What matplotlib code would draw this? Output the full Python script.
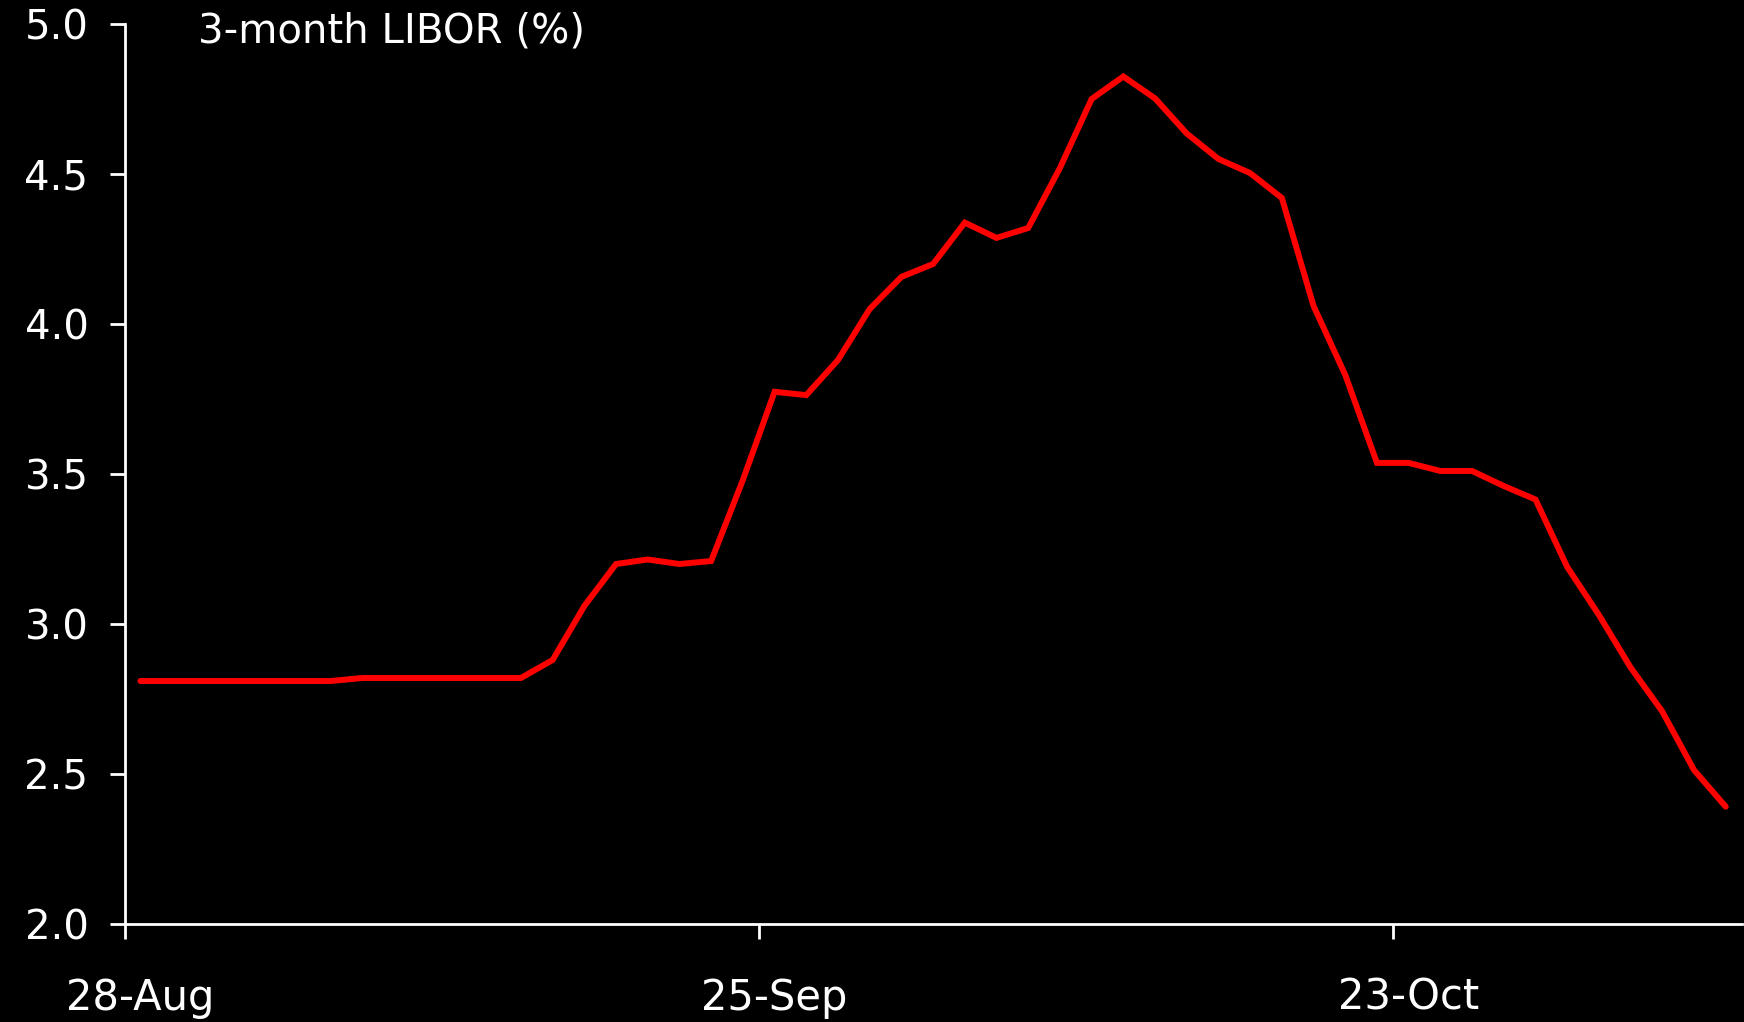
import matplotlib
matplotlib.use("Agg")
import matplotlib.pyplot as plt
import numpy as np

# 3-month LIBOR, one value per business day from 28-Aug
libor = [2.81, 2.81, 2.81, 2.81, 2.81, 2.81, 2.81, 2.82, 2.82, 2.82,
         2.82, 2.82, 2.82, 2.88, 3.06, 3.20, 3.215, 3.20, 3.21, 3.48,
         3.774, 3.763, 3.88, 4.05, 4.157, 4.20, 4.338, 4.287, 4.32, 4.52,
         4.75, 4.825, 4.752, 4.635, 4.55, 4.503, 4.42, 4.06, 3.83, 3.537,
         3.537, 3.51, 3.51, 3.46, 3.415, 3.19, 3.03, 2.855, 2.708, 2.513,
         2.391]
tick_labels = ['28-Aug', '25-Sep', '23-Oct']
label_pos = [0, 20, 40]
yticks = [2.0, 2.5, 3.0, 3.5, 4.0, 4.5, 5.0]

plt.rcParams['font.family'] = ['DejaVu Sans']

fig = plt.figure(figsize=(17.44, 10.22), dpi=100, facecolor='black')
ax = fig.add_axes([124.6 / 1744, 98 / 1022, 1617 / 1744, 900 / 1022])
ax.set_facecolor('black')

x = np.arange(len(libor))
ax.plot(x, libor, color='#ff0000', linewidth=4.3, solid_capstyle='round',
        solid_joinstyle='miter', clip_on=False)

ax.set_xlim(-0.5, len(libor) - 0.5)
ax.set_ylim(2.0, 5.0)

for side in ['top', 'right']:
    ax.spines[side].set_visible(False)
for side in ['left', 'bottom']:
    ax.spines[side].set_color('white')
    ax.spines[side].set_linewidth(2.0)

# y axis
ax.set_yticks(yticks)
ax.set_yticklabels(['%.1f' % v for v in yticks])
ax.tick_params(axis='y', colors='white', length=11, width=2.0, pad=15,
               labelsize=29, direction='out')

# x axis: ticks at category boundaries, labels on category centres
ax.set_xticks([p - 0.5 for p in label_pos])
ax.set_xticklabels([])
ax.tick_params(axis='x', which='major', colors='white', length=11, width=2.0,
               direction='out')
ax.set_xticks(label_pos, minor=True)
ax.set_xticklabels(tick_labels, minor=True)
ax.tick_params(axis='x', which='minor', colors='white', length=0, pad=38,
               labelsize=30)

fig.text(198 / 1744, 1 - 42 / 1022, '3-month LIBOR (%)', color='white',
         fontsize=29, ha='left', va='baseline')

fig.savefig('out.png', dpi=100, facecolor='black')
